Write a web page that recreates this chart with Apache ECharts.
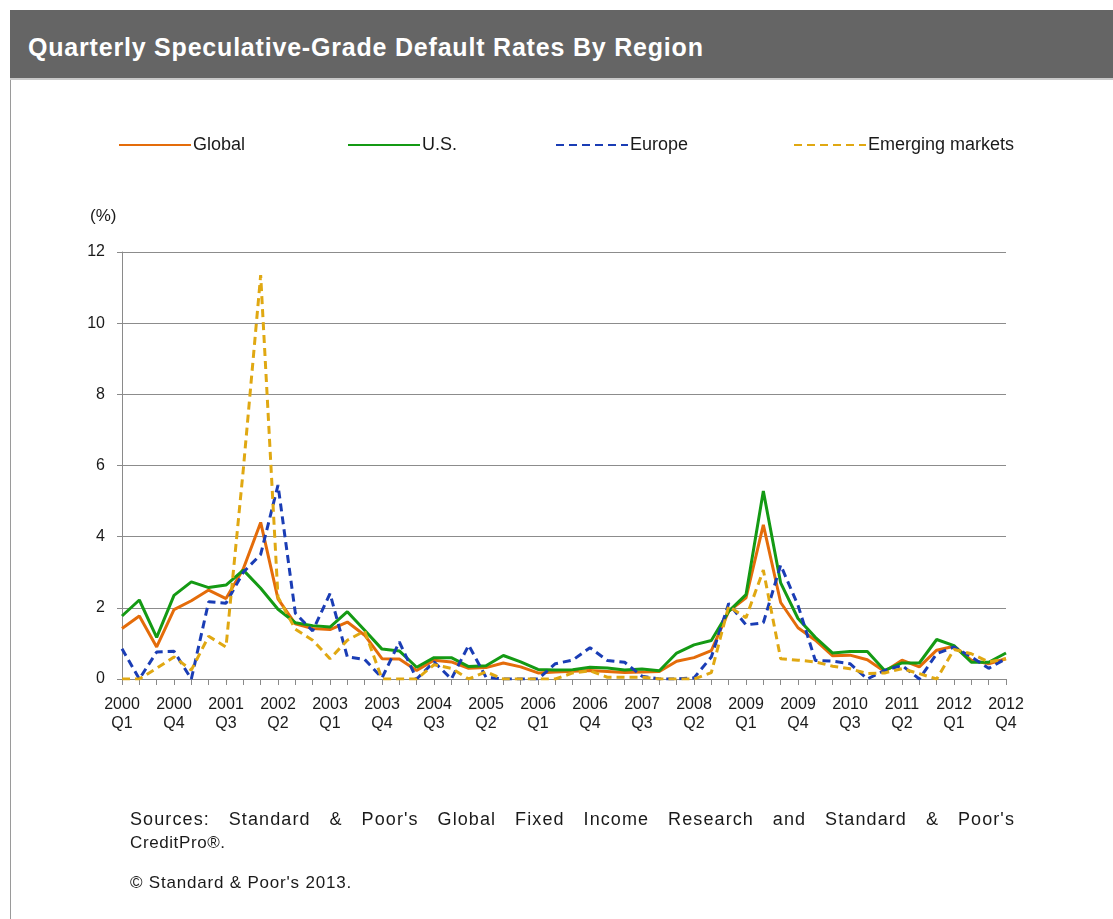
<!DOCTYPE html>
<html>
<head>
<meta charset="utf-8">
<script src="https://cdn.jsdelivr.net/npm/echarts@6/dist/echarts.min.js"></script>
<style>
    html, body { margin: 0; padding: 0; background: #fff; }
    body { width: 1113px; height: 919px; position: relative; overflow: hidden; font-family: "Liberation Sans", Arial, sans-serif; }
    #frame { position: absolute; left: 10px; top: 10px; right: 0; bottom: 0; border-left: 1px solid #9a9a9a; }
    #header { position: absolute; left: 10px; top: 10px; right: 0; height: 68px; background: #656565; border-bottom: 2px solid #c8c8c8; }
    #header span { position: absolute; left: 18px; top: 23px; color: #fff; font-size: 25px; font-weight: bold; letter-spacing: 0.8px; }
    #chart { position: absolute; left: 0; top: 0; width: 1113px; height: 919px; }
    #sources { position: absolute; left: 130px; top: 808px; width: 885px; font-size: 18px; line-height: 23px; letter-spacing: 1.1px; color: #1a1a1a; }
    #sources .l1 { display: block; text-align: justify; text-align-last: justify; }
    #sources .l2 { font-size: 17px; letter-spacing: 0.6px; }
    #copy { position: absolute; left: 130px; top: 873px; font-size: 17px; letter-spacing: 0.8px; color: #1a1a1a; }
</style>
</head>
<body>
<div id="frame"></div>
<div id="chart"></div>
<div id="header"><span>Quarterly Speculative-Grade Default Rates By Region</span></div>
<div id="sources"><span class="l1">Sources: Standard &amp; Poor's Global Fixed Income Research and Standard &amp; Poor's</span><span class="l2">CreditPro®.</span></div>
<div id="copy">© Standard &amp; Poor's 2013.</div>
<script>
// quarters 2000 Q1 .. 2012 Q4
const quarters = [
    '2000 Q1', '2000 Q2', '2000 Q3', '2000 Q4', '2001 Q1', '2001 Q2', '2001 Q3', '2001 Q4',
    '2002 Q1', '2002 Q2', '2002 Q3', '2002 Q4', '2003 Q1', '2003 Q2', '2003 Q3', '2003 Q4',
    '2004 Q1', '2004 Q2', '2004 Q3', '2004 Q4', '2005 Q1', '2005 Q2', '2005 Q3', '2005 Q4',
    '2006 Q1', '2006 Q2', '2006 Q3', '2006 Q4', '2007 Q1', '2007 Q2', '2007 Q3', '2007 Q4',
    '2008 Q1', '2008 Q2', '2008 Q3', '2008 Q4', '2009 Q1', '2009 Q2', '2009 Q3', '2009 Q4',
    '2010 Q1', '2010 Q2', '2010 Q3', '2010 Q4', '2011 Q1', '2011 Q2', '2011 Q3', '2011 Q4',
    '2012 Q1', '2012 Q2', '2012 Q3', '2012 Q4'
]

const globalRates = [
    1.42, 1.77, 0.90, 1.95, 2.20, 2.50, 2.26, 3.10, 4.40, 2.25, 1.55, 1.42, 1.39,
    1.60, 1.23, 0.57, 0.56, 0.24, 0.53, 0.48, 0.30, 0.32, 0.45, 0.34, 0.17, 0.20,
    0.22, 0.24, 0.21, 0.18, 0.20, 0.21, 0.50, 0.60, 0.80, 1.90, 2.28, 4.33, 2.15,
    1.44, 1.09, 0.65, 0.67, 0.54, 0.21, 0.53, 0.34, 0.81, 0.92, 0.53, 0.43, 0.57
]
const usRates = [
    1.77, 2.22, 1.17, 2.35, 2.73, 2.57, 2.64, 3.06, 2.55, 1.96, 1.58, 1.50, 1.46,
    1.89, 1.37, 0.84, 0.79, 0.33, 0.60, 0.60, 0.35, 0.37, 0.66, 0.48, 0.27, 0.25,
    0.26, 0.33, 0.31, 0.25, 0.28, 0.23, 0.73, 0.96, 1.08, 1.90, 2.37, 5.28, 2.70,
    1.70, 1.17, 0.73, 0.77, 0.77, 0.24, 0.45, 0.45, 1.11, 0.94, 0.47, 0.47, 0.73
]
const europeRates = [
    0.85, 0.00, 0.76, 0.78, 0.00, 2.17, 2.13, 3.00, 3.50, 5.45, 1.85, 1.35, 2.40,
    0.62, 0.55, 0.03, 1.04, 0.00, 0.48, 0.00, 0.95, 0.05, 0.00, 0.00, 0.00, 0.43,
    0.53, 0.88, 0.52, 0.47, 0.08, 0.00, 0.00, 0.03, 0.62, 2.12, 1.52, 1.58, 3.20,
    2.07, 0.52, 0.50, 0.43, 0.00, 0.24, 0.38, 0.00, 0.71, 0.90, 0.62, 0.30, 0.57
]
const emergingRates = [
    0.00, 0.00, 0.30, 0.62, 0.25, 1.20, 0.90, 5.90, 11.35, 2.30, 1.40, 1.09, 0.57,
    1.09, 1.35, 0.00, 0.00, 0.00, 0.40, 0.30, 0.00, 0.20, 0.00, 0.00, 0.00, 0.00,
    0.17, 0.23, 0.05, 0.05, 0.05, 0.00, 0.00, 0.00, 0.18, 2.05, 1.72, 3.06, 0.57,
    0.53, 0.48, 0.36, 0.29, 0.15, 0.17, 0.29, 0.15, 0.00, 0.83, 0.71, 0.48, 0.57
]
const yTicks = [0, 2, 4, 6, 8, 10, 12]

const font = '"Liberation Sans", Arial, sans-serif'
const textColor = '#1a1a1a'

function lineSeries(name, data, color, dashed) {
    return {
        name: name,
        type: 'line',
        data: data,
        symbol: 'none',
        smooth: false,
        lineStyle: {
            color: color,
            width: 3,
            type: dashed ? [8, 5] : 'solid'
        },
        itemStyle: { color: color },
        animation: false
    }
}

// one legend per item so each sits where the original has it
function legendAt(name, left) {
    return {
        left: left,
        top: 136,
        padding: 0,
        itemWidth: 72,
        itemHeight: 14,
        itemStyle: { opacity: 0 },
        textStyle: { fontSize: 18, color: textColor, fontFamily: font, padding: [0, 0, 0, -3] },
        data: [name]
    }
}

const chart = echarts.init(document.getElementById('chart'), null, { renderer: 'canvas' })

chart.setOption({
    textStyle: { fontFamily: font },
    legend: [
        legendAt('Global', 118),
        legendAt('U.S.', 347),
        legendAt('Europe', 555),
        legendAt('Emerging markets', 793)
    ],
    graphic: [{
        type: 'text',
        left: 90,
        top: 208,
        style: { text: '(%)', fontSize: 17, fill: textColor, fontFamily: font }
    }],
    grid: {
        left: 122,
        right: 107,
        top: 252,
        bottom: 240,
        containLabel: false
    },
    xAxis: {
        type: 'category',
        data: quarters,
        boundaryGap: false,
        axisLine: { lineStyle: { color: '#8a8a8a', width: 1 } },
        axisTick: { interval: 0, length: 6, lineStyle: { color: '#8a8a8a' } },
        axisLabel: {
            interval: 2,
            margin: 16,
            fontSize: 16,
            lineHeight: 19,
            color: textColor,
            formatter: function (v) { return v.replace(' ', '\n') }
        },
        splitLine: { show: false }
    },
    yAxis: {
        type: 'value',
        min: yTicks[0],
        max: yTicks[yTicks.length - 1],
        interval: 2,
        axisLine: { show: true, lineStyle: { color: '#8a8a8a', width: 1 } },
        axisTick: { show: true, length: 5, lineStyle: { color: '#8a8a8a' } },
        axisLabel: { fontSize: 16, color: textColor, margin: 17 },
        splitLine: { lineStyle: { color: '#8c8c8c', width: 1 } }
    },
    series: [
        lineSeries('Global', globalRates, '#e46c0a', false),
        lineSeries('U.S.', usRates, '#149a14', false),
        lineSeries('Europe', europeRates, '#1a3db5', true),
        lineSeries('Emerging markets', emergingRates, '#e0a812', true)
    ]
})
</script>
</body>
</html>
